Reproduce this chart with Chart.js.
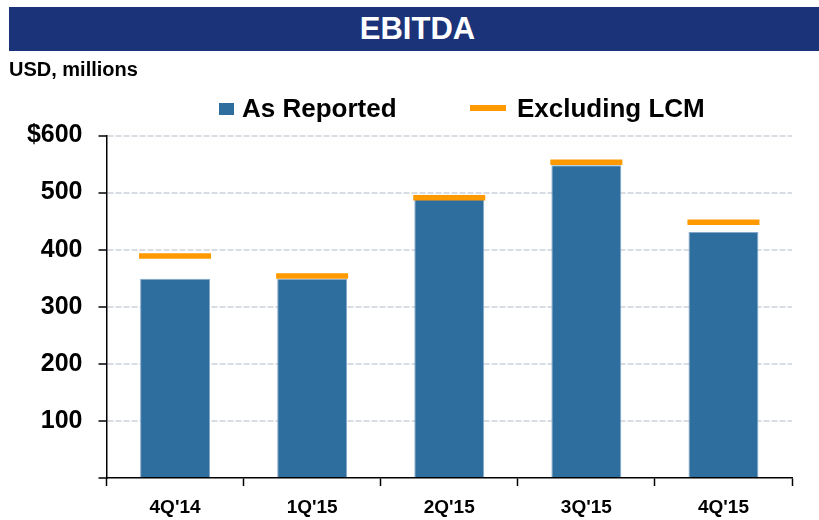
<!DOCTYPE html>
<html>
<head>
<meta charset="utf-8">
<script src="https://cdn.jsdelivr.net/npm/chart.js@4"></script>
<style>
    body { margin: 0; background: #fff; font-family: "Liberation Sans", Arial, sans-serif; font-weight: bold; }
    #wrap { position: relative; width: 819px; height: 520px; overflow: hidden; }
    #chart-ebitda { position: absolute; left: 0; top: 0; }
    .title { position: absolute; left: 9px; top: 7px; width: 810px; height: 44px; box-sizing: border-box;
        padding-left: 7px; background: #1b3379; color: #fff; font-size: 31px; line-height: 44px; text-align: center; }
    .unit { position: absolute; left: 9px; top: 59px; font-size: 20px; line-height: 20px; color: #000; }
    .legend-text { position: absolute; top: 95px; font-size: 26px; line-height: 26px; color: #000; white-space: nowrap; }
    .swatch-bar { position: absolute; left: 219px; top: 103px; width: 15px; height: 12px; background: #2e6e9e; }
    .swatch-line { position: absolute; left: 470px; top: 105px; width: 36px; height: 6px; background: #ff9900; }
</style>
</head>
<body>
<div id="wrap">
    <canvas id="chart-ebitda" width="819" height="520"></canvas>
    <div class="title">EBITDA</div>
    <div class="unit">USD, millions</div>
    <div class="swatch-bar"></div>
    <div class="legend-text" style="left:242px">As Reported</div>
    <div class="swatch-line"></div>
    <div class="legend-text" style="left:517px">Excluding LCM</div>
</div>
<script>
const quarters = ["4Q'14", "1Q'15", "2Q'15", "3Q'15", "4Q'15"];
const asReported = [349, 349, 489, 548, 431];
const excludingLcm = [389, 354, 491, 553, 448];
const yTicks = [0, 100, 200, 300, 400, 500, 600];

Chart.defaults.font.family = '"Liberation Sans", Arial, sans-serif';
Chart.defaults.font.weight = 'bold';
Chart.defaults.color = '#000';

const canvas = document.getElementById('chart-ebitda');

let chartEbitda = new Chart(canvas, {
    type: 'bar',
    data: {
        labels: quarters,
        datasets: [{
            type: 'line',
            label: 'Excluding LCM',
            data: excludingLcm,
            showLine: false,
            pointStyle: 'line',
            pointRadius: 36,
            pointHoverRadius: 36,
            pointBorderWidth: 5.5,
            pointBorderColor: '#ff9900',
            pointBackgroundColor: '#ff9900',
            order: 0
        }, {
            label: 'As Reported',
            data: asReported,
            backgroundColor: '#2e6e9e',
            borderColor: '#86a9cb',
            borderWidth: 1,
            barPercentage: 0.51,
            categoryPercentage: 1,
            order: 1
        }]
    },
    options: {
        responsive: false,
        animation: false,
        layout: { autoPadding: false, padding: { left: 0, top: 135.5, right: 27, bottom: 0 } },
        plugins: {
            legend: { display: false },
            tooltip: { enabled: false }
        },
        scales: {
            x: {
                grid: {
                    drawOnChartArea: false,
                    drawTicks: true,
                    tickLength: 8,
                    tickColor: '#000',
                    tickWidth: 1.5
                },
                border: { display: true, color: '#000', width: 1.5 },
                ticks: { font: { size: 19, weight: 'bold' }, padding: 10, maxRotation: 0 },
                afterFit: (scale) => { scale.height = 42; }
            },
            y: {
                min: 0,
                max: 600,
                afterBuildTicks: (scale) => { scale.ticks = yTicks.map(v => ({value: v})); },
                grid: {
                    color: (ctx) => (ctx.tick && ctx.tick.value === 0) ? 'rgba(0,0,0,0)' : '#d8dde3',
                    lineWidth: 2,
                    tickColor: '#000',
                    tickWidth: 1.5,
                    tickLength: 8,
                    tickBorderDash: []
                },
                border: { display: true, color: '#000', width: 1.5, dash: [6, 2] },
                ticks: {
                    font: { size: 25, weight: 'bold' },
                    padding: 16,
                    callback: (v) => v === 0 ? '' : (v === 600 ? '$' + v : v)
                },
                afterFit: (scale) => { scale.width = 106.5; }
            }
        }
    }
});
</script>
</body>
</html>
